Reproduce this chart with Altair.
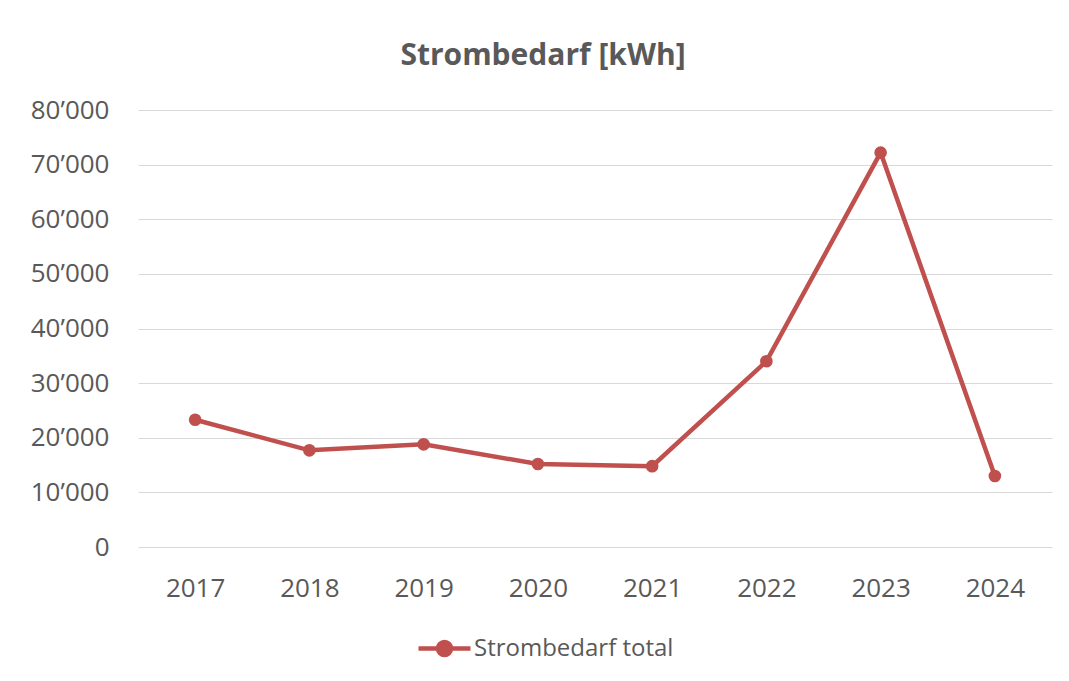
import altair as alt
import pandas as pd

years = ["2017", "2018", "2019", "2020", "2021", "2022", "2023", "2024"]
values = [23300, 17700, 18800, 15200, 14800, 34000, 72200, 13000]
series = ["Strombedarf total"] * len(years)
y_ticks = [0, 10000, 20000, 30000, 40000, 50000, 60000, 70000, 80000]

df = pd.DataFrame({"Jahr": years, "kWh": values, "Serie": series})

RED = "#C0504D"
GRAY = "#595959"
FONT = "Open Sans"

legend_symbol = (
    "M-1,0L1,0"
    "M-0.25,0A0.25,0.25,0,1,1,0.25,0A0.25,0.25,0,1,1,-0.25,0Z"
)

chart = (
    alt.Chart(df)
    .mark_line(
        color=RED,
        strokeWidth=4.5,
        point=alt.OverlayMarkDef(filled=True, size=160, color=RED),
    )
    .encode(
        x=alt.X(
            "Jahr:O",
            sort=years,
            title=None,
            scale=alt.Scale(padding=0.5),
            axis=alt.Axis(
                labelAngle=0,
                ticks=False,
                tickSize=0,
                domain=False,
                grid=False,
                labelPadding=28,
                labelFontSize=26,
                labelColor=GRAY,
                labelFont=FONT,
            ),
        ),
        y=alt.Y(
            "kWh:Q",
            title=None,
            scale=alt.Scale(domain=[0, 80000], nice=False),
            axis=alt.Axis(
                values=y_ticks,
                ticks=False,
                tickSize=0,
                domain=False,
                grid=True,
                gridColor="#D9D9D9",
                gridWidth=1.2,
                labelPadding=29,
                labelFontSize=26,
                labelColor=GRAY,
                labelFont=FONT,
                labelExpr="replace(format(datum.value, ','), ',', '\u2019')",
            ),
        ),
        color=alt.Color(
            "Serie:N",
            scale=alt.Scale(domain=["Strombedarf total"], range=[RED]),
            legend=alt.Legend(
                title=None,
                orient="none",
                legendX=278,
                legendY=510,
                symbolType=legend_symbol,
                symbolSize=2704,
                symbolStrokeWidth=4.5,
                symbolFillColor=RED,
                symbolStrokeColor=RED,
                labelFontSize=24,
                labelColor=GRAY,
                labelFont=FONT,
                labelOffset=1,
                labelLimit=0,
                padding=0,
            ),
        ),
    )
    .properties(
        width=914,
        height=437,
        background="white",
        title=alt.TitleParams(
            "Strombedarf [kWh]",
            fontSize=30,
            font=FONT,
            fontWeight="bold",
            color=GRAY,
            anchor="middle",
            offset=26,
            dx=-52,
        ),
        autosize=alt.AutoSizeParams(type="none"),
        padding={"left": 130, "top": 102, "right": 9, "bottom": 126},
    )
    .configure_view(strokeWidth=0, stroke="transparent")
)

chart.save("out.html", embed_options={"renderer": "svg", "actions": False})
